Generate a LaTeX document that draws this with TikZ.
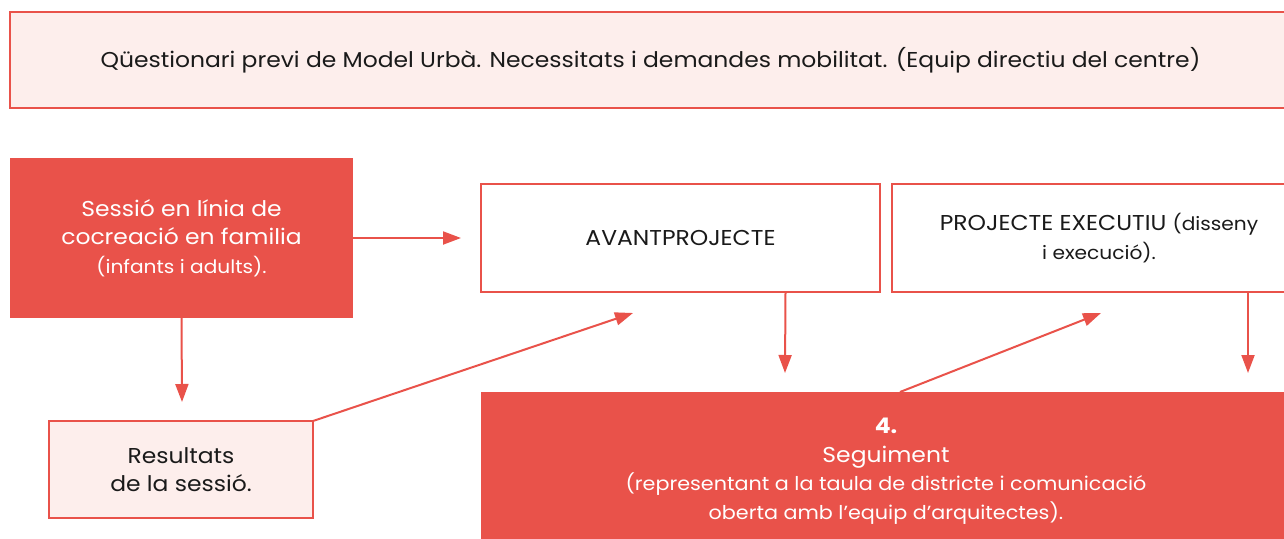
\documentclass[tikz,border=0pt]{standalone}
\usepackage{fontspec}
\setmainfont{Poppins}[FakeStretch=1.09]
\usetikzlibrary{arrows.meta,calc}
\definecolor{rd}{HTML}{E9524A}
\definecolor{pk}{HTML}{FDEEEC}
\definecolor{tx}{HTML}{1A1A1A}
\newcommand{\fb}{\fontsize{21.5}{28.5}\selectfont}
\newcommand{\fs}{\fontsize{18.5}{28}\selectfont}
\newcommand{\fss}{\fontsize{19}{27.5}\selectfont}
\tikzset{
  lightbox/.style={draw=rd,line width=2.2pt,fill=pk,inner sep=0pt,outer sep=0pt,align=center,text=tx},
  whitebox/.style={draw=rd,line width=2pt,fill=white,inner sep=0pt,outer sep=0pt,align=center,text=tx},
  redbox/.style={fill=rd,inner sep=0pt,outer sep=0pt,align=center,text=white},
  arr/.style={draw=rd,line width=2pt,-{Triangle[length=18pt,width=13pt]}},
}
\begin{document}
\begin{tikzpicture}[x=1pt,y=-1pt]
\useasboundingbox (0,0) rectangle (1284,538);
\node[lightbox,font=\fb,minimum width=1281pt,minimum height=96pt] (top) at (650.5,60) {Qüestionari previ de Model Urbà. Necessitats i demandes mobilitat. (Equip directiu del centre)};
\node[redbox,font=\fb,minimum width=343pt,minimum height=160pt] (sess) at (181.5,238) {Sessió en línia de\\cocreació en familia\\\fs (infants i adults).};
\node[whitebox,font=\fb,minimum width=399pt,minimum height=108pt] (avant) at (680.5,238) {AVANTPROJECTE};
\node[whitebox,font=\fb,minimum width=414pt,minimum height=108pt] (proj) at (1099,238) {PROJECTE EXECUTIU \fs(disseny\\\fs i execució).};
\node[lightbox,font=\fb,minimum width=264pt,minimum height=97pt] (res) at (181,469.5) {Resultats\\de la sessió.};
\node[redbox,minimum width=810pt,minimum height=160pt,anchor=north west] (seg) at (481,392) {};
\node[text=white,align=center,inner sep=0pt,font=\fb] (segt) at (886,471) {\bfseries 4.\\\fb Seguiment\\\fss (representant a la taula de districte i comunicació\\\fss oberta amb l’equip d’arquitectes).};
\coordinate (a1) at (461,238);
\coordinate (a2) at (182,402);
\coordinate (a3) at (633,313);
\coordinate (a4) at (785,373);
\coordinate (a5) at (1101,313);
\coordinate (a6) at (1248,373);
\draw[arr] (sess.east) -- (a1);
\draw[arr] (sess.south) -- (a2);
\draw[arr] (res.north east) -- (a3);
\draw[arr] ($(avant.south west)+(304.5,0)$) -- (a4);
\draw[arr] ($(seg.north west)+(419,0)$) -- (a5);
\draw[arr] ($(proj.south west)+(356,0)$) -- (a6);
\end{tikzpicture}
\end{document}
